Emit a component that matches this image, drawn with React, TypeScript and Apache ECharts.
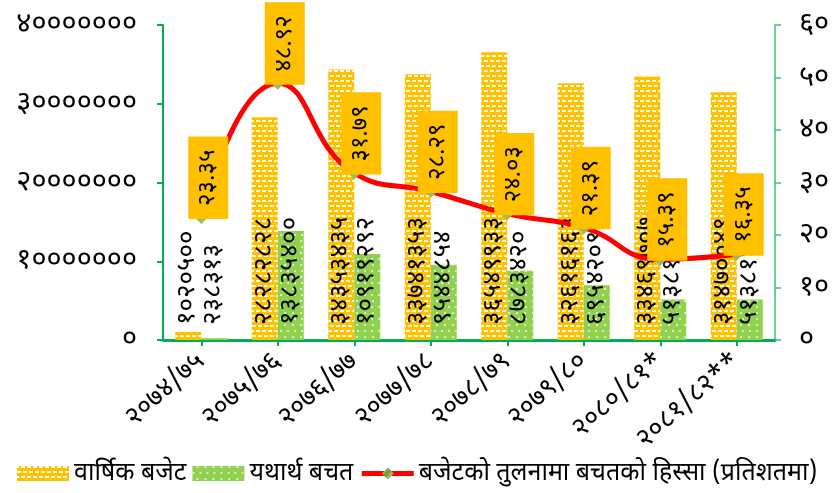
import React, { useEffect, useRef } from "react";
import * as echarts from "echarts";

const categories = ["२०७४/७५", "२०७५/७६", "२०७६/७७", "२०७७/७८", "२०७८/७९", "२०७९/८०", "२०८०/८१*", "२०८१/८२**"];
const budget = [1020500, 28282828, 34353435, 33741353, 36549933, 32616163, 33469707, 31470049];
const savings = [238313, 13835400, 10919292, 9544854, 8783420, 6954209, 5138197, 5138147];
const sharePct = [23.35, 48.92, 31.79, 28.29, 24.03, 21.39, 15.39, 16.35];
const seriesNames = ["वार्षिक बजेट", "यथार्थ बचत", "बजेटको तुलनामा बचतको हिस्सा (प्रतिशतमा)"];

const DEV = "०१२३४५६७८९";
const toDev = (s: string) => s.replace(/[0-9]/g, (d) => DEV[+d]);
const FONT = "'Noto Sans Devanagari', 'Lohit Devanagari', 'Noto Sans', 'DejaVu Sans', sans-serif";

export default function App() {
  const ref = useRef<HTMLDivElement>(null);
  useEffect(() => {
    if (!ref.current) return;
    const chart = echarts.init(ref.current, undefined, { renderer: "svg" });
    const barLabel = {
      show: true,
      position: "insideBottom",
      distance: 15,
      rotate: 90,
      align: "left",
      verticalAlign: "middle",
      fontSize: 26,
      color: "#000",
      fontFamily: FONT,
      formatter: (p: any) => toDev(String(p.value)),
    };
    chart.setOption({
      animation: false,
      aria: { enabled: true, decal: { show: true } },
      textStyle: { fontFamily: FONT },
      grid: { left: 163, right: 62, top: 25, bottom: 153 },
      legend: {
        bottom: 2,
        left: 12,
        itemWidth: 52,
        itemHeight: 15,
        itemGap: 6,
        textStyle: { fontSize: 25, color: "#000", fontFamily: FONT },
        data: [
          { name: seriesNames[0], icon: "rect" },
          { name: seriesNames[1], icon: "rect" },
          { name: seriesNames[2], lineStyle: { width: 5 } },
        ],
      },
      xAxis: {
        type: "category",
        data: categories,
        axisLine: { lineStyle: { color: "#00B050", width: 3 } },
        axisTick: { show: true, alignWithLabel: true, length: 6, lineStyle: { color: "#00B050", width: 2 } },
        axisLabel: { rotate: 42, fontSize: 27, color: "#000", margin: 18, fontFamily: FONT, interval: 0 },
      },
      yAxis: [
        {
          type: "value",
          min: 0,
          max: 40000000,
          interval: 10000000,
          splitLine: { show: false },
          axisLine: { show: true, lineStyle: { color: "#00B050", width: 2 } },
          axisTick: { show: true, length: 6, lineStyle: { color: "#00B050", width: 2 } },
          axisLabel: { fontSize: 29, color: "#000", margin: 26, fontFamily: FONT, formatter: (v: number) => toDev(String(v)) },
        },
        {
          type: "value",
          position: "right",
          min: 0,
          max: 60,
          interval: 10,
          splitLine: { show: false },
          axisLine: { show: true, lineStyle: { color: "#3CC07A", width: 1.5 } },
          axisTick: { show: true, length: 6, lineStyle: { color: "#3CC07A", width: 1.5 } },
          axisLabel: { fontSize: 29, color: "#000", margin: 24, fontFamily: FONT, formatter: (v: number) => toDev(String(v)) },
        },
      ],
      series: [
        {
          name: seriesNames[0],
          type: "bar",
          data: budget,
          yAxisIndex: 0,
          barWidth: "34%",
          barGap: "0%",
          itemStyle: {
            color: "#FFC000",
            decal: {
              symbol: "rect",
              symbolSize: 1,
              color: "rgba(255,255,255,0.9)",
              dashArrayX: [[4, 2], [2, 2, 2, 0]],
              dashArrayY: [2, 3],
              rotation: 0,
            },
          },
          label: barLabel,
        },
        {
          name: seriesNames[1],
          type: "bar",
          data: savings,
          yAxisIndex: 0,
          barWidth: "34%",
          barGap: "0%",
          itemStyle: {
            color: "#92D050",
            decal: {
              symbol: "circle",
              symbolSize: 0.9,
              color: "rgba(255,255,255,0.9)",
              dashArrayX: [[2, 5], [0, 3.5, 2, 1.5]],
              dashArrayY: [2, 4],
              rotation: 0,
            },
          },
          label: barLabel,
        },
        {
          name: seriesNames[2],
          type: "line",
          data: sharePct,
          yAxisIndex: 1,
          smooth: true,
          z: 10,
          symbol: "diamond",
          symbolSize: 13,
          lineStyle: { color: "#FF0000", width: 5 },
          itemStyle: { color: "#9BBB59" },
          label: {
            show: true,
            position: "top",
            distance: 0,
            rotate: 90,
            align: "left",
            verticalAlign: "middle",
            offset: [-8, 7],
            fontSize: 24,
            color: "#000",
            fontFamily: FONT,
            backgroundColor: "#FFC000",
            padding: [8, 13, 8, 13],
            formatter: (p: any) => toDev(Number(p.value).toFixed(2)),
          },
        },
      ],
    });
    return () => chart.dispose();
  }, []);
  return <div ref={ref} style={{ position: "fixed", left: 0, top: 0, width: 837, height: 493 }} />;
}
